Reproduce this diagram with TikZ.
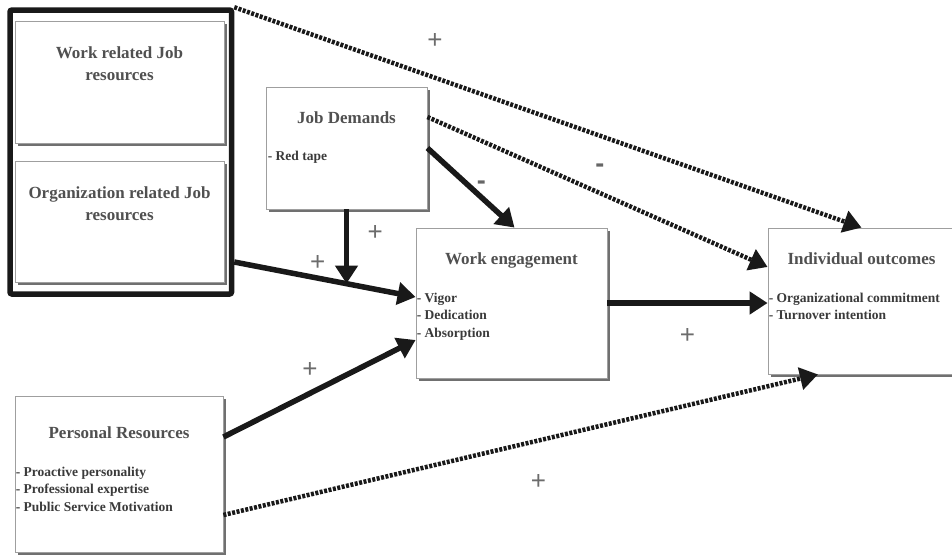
\documentclass[tikz,border=0pt]{standalone}
\usepackage{fontspec}
\setmainfont{Liberation Serif}
\newfontfamily\signfont{Liberation Sans}
\usetikzlibrary{shapes,arrows.meta,positioning,calc,shadows}
\definecolor{ttlgray}{HTML}{505050}
\definecolor{itmgray}{HTML}{3A3A3A}

\begin{document}
\begin{tikzpicture}[
  x=1pt, y=-1pt,
  blk/.style={rectangle, draw=gray!75, fill=white, line width=0.8pt, inner sep=0pt,
              drop shadow={shadow xshift=3pt, shadow yshift=-3pt, fill=black!70, opacity=0.8}},
  grp/.style={rectangle, rounded corners=2pt, draw=black!90, line width=5.5pt, inner sep=0pt},
  ttl/.style={font=\fontsize{17}{22}\selectfont\bfseries, text=ttlgray,
              align=center, inner sep=0pt, anchor=north},
  itm/.style={font=\fontsize{13.5}{17.5}\selectfont\bfseries, text=itmgray,
              align=left, inner sep=0pt, anchor=north west},
  arrow/.style={-{Triangle[length=18pt,width=22pt]}, line width=5.5pt, black!90},
  dotarrow/.style={-{Triangle[length=18pt,width=22pt]}, line width=4.5pt, black!90,
                   dash pattern=on 3pt off 1.5pt},
  plus/.style={font=\signfont\fontsize{26}{26}\selectfont, text=gray!85!black},
  minus/.style={font=\signfont\bfseries\fontsize{27}{27}\selectfont, text=gray!80!black, inner sep=1pt}
]
\useasboundingbox (0,0) rectangle (952,555);

% Boxes
\node[blk, minimum width=209pt, minimum height=122pt] (work) at (119.5,82)    {};
\node[blk, minimum width=209pt, minimum height=121pt] (org)  at (119.5,221.5) {};
\node[blk, minimum width=161pt, minimum height=122pt] (jd)   at (346.5,148)   {};
\node[blk, minimum width=191pt, minimum height=150pt] (we)   at (511.5,303)   {};
\node[blk, minimum width=187pt, minimum height=146pt] (io)   at (861.5,301)   {};
\node[blk, minimum width=208pt, minimum height=156pt] (pr)   at (119,474)     {};

% Job resources frame
\node[grp, minimum width=221.5pt, minimum height=284pt] (jr) at (120.75,152) {};

% Texts
\node[ttl] (work-t) at ([yshift=-26pt]work.north) {Work related Job\\resources};
\node[ttl] (org-t)  at ([yshift=-25.5pt]org.north) {Organization related Job\\resources};
\node[ttl] (jd-t)   at ([yshift=-24.5pt]jd.north)  {Job Demands};
\node[itm] (jd-i)   at ([xshift=2pt,yshift=-64pt]jd.north west) {- Red tape};
\node[ttl] (we-t)   at ([yshift=-25pt]we.north)  {Work engagement};
\node[itm] (we-i)   at ([xshift=1pt,yshift=-65pt]we.north west) {- Vigor\\- Dedication\\- Absorption};
\node[ttl] (io-t)   at ([yshift=-25pt]io.north)  {Individual outcomes};
\node[itm] (io-i)   at ([xshift=1pt,yshift=-65pt]io.north west) {- Organizational commitment\\- Turnover intention};
\node[ttl] (pr-t)   at ([yshift=-30.5pt]pr.north) {Personal Resources};
\node[itm] (pr-i)   at ([xshift=1pt,yshift=-71pt]pr.north west) {- Proactive personality\\- Professional expertise\\- Public Service Motivation};

% Solid arrows
\draw[arrow] ([yshift=-110pt]jr.east) -- coordinate[pos=0.617] (jn) node[pos=0.46, above=2pt, plus]{+} ([yshift=6pt]we.west);
\draw[arrow] (jd.south) -- (jd.south |- jn) node[pos=0.32, right=15pt, plus]{+};
\draw[arrow] ([yshift=37pt]pr.east) -- ([yshift=-37pt]we.west) node[pos=0.45, above=10pt, plus]{+};
\draw[arrow] (jd.east) -- ([xshift=3pt]we.north) node[pos=0.62, above=4pt, minus]{-};
\draw[arrow] (we.east) -- (we.east -| io.west) node[pos=0.5, below=19pt, plus]{+};

% Dotted arrows
\draw[dotarrow] (jr.north east) -- (io.north) node[pos=0.32, above=24pt, plus]{+};
\draw[dotarrow] ([yshift=31pt]jd.east) -- ([yshift=34pt]io.west) node[pos=0.507, above=17pt, minus]{-};
\draw[dotarrow] ([yshift=-41pt]pr.east) -- ([xshift=-43.5pt]io.south) node[pos=0.53, below=28pt, plus]{+};

\end{tikzpicture}
\end{document}
